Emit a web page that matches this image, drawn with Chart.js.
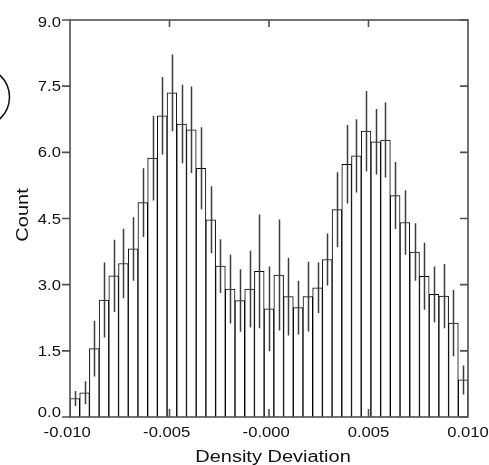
<!DOCTYPE html>
<html>
<head>
<meta charset="utf-8">
<script src="https://cdn.jsdelivr.net/npm/chart.js@4/dist/chart.umd.min.js"></script>
<style>
  html, body { margin: 0; padding: 0; background: #fff; }
  canvas { display: block; }
</style>
</head>
<body>
<canvas id="hist" width="489" height="465"></canvas>
<script>
// histogram of density deviation, 41 bins from -0.010 to 0.010
const binStart = -0.010;
const binEnd = 0.010;
const counts = [0.42, 0.55, 1.55, 2.65, 3.20, 3.48, 3.81, 4.86, 5.87, 6.83,
                7.35, 6.64, 6.51, 5.64, 4.47, 3.42, 2.90, 2.64, 2.90, 3.30,
                2.45, 3.22, 2.73, 2.48, 2.73, 2.93, 3.57, 4.70, 5.73, 5.92,
                6.48, 6.24, 6.28, 5.02, 4.41, 3.74, 3.19, 2.78, 2.74, 2.13, 0.84];
const errors = [0.17, 0.26, 0.63, 0.85, 0.82, 0.79, 0.72, 0.78, 0.96, 0.88,
                0.87, 0.89, 0.98, 0.93, 0.76, 0.61, 0.78, 0.71, 0.87, 1.29,
                0.96, 1.26, 0.88, 0.61, 0.79, 0.57, 0.59, 0.85, 0.89, 0.83,
                0.91, 0.74, 0.85, 0.76, 0.73, 0.65, 0.76, 0.63, 0.73, 0.75, 0.33];
const xTicks = [-0.010, -0.005, 0, 0.005, 0.010];
const xTickLabels = ['-0.010', '-0.005', '-0.000', '0.005', '0.010'];
const yTicks = [0, 1.5, 3, 4.5, 6, 7.5, 9];
const yTickLabels = ['0.0', '1.5', '3.0', '4.5', '6.0', '7.5', '9.0'];
const xTitle = 'Density Deviation';
const yTitle = 'Count';

const binWidth = (binEnd - binStart) / counts.length;
const points = counts.map((c, i) => ({ x: binStart + (i + 0.5) * binWidth, y: c }));

// text in the reference is a bit wider than Arial, so squeeze it out sideways
function wideText(ctx, text, x, y, sx, align) {
  ctx.save();
  ctx.translate(x, y);
  ctx.scale(sx, 1);
  ctx.textAlign = align;
  ctx.fillText(text, 0, 0);
  ctx.restore();
}

const frameAndErrors = {
  id: 'frameAndErrors',
  afterDatasetsDraw(chart) {
    const ctx = chart.ctx;
    const area = chart.chartArea;
    const xs = chart.scales.x;
    const ys = chart.scales.y;

    // error bars
    ctx.save();
    ctx.strokeStyle = '#3c3c3c';
    ctx.lineWidth = 1.5;
    ctx.beginPath();
    points.forEach((p, i) => {
      const px = Math.round(xs.getPixelForValue(p.x)) + 0.5;
      ctx.moveTo(px, ys.getPixelForValue(p.y - errors[i]));
      ctx.lineTo(px, ys.getPixelForValue(p.y + errors[i]));
    });
    ctx.stroke();

    // frame
    ctx.strokeStyle = '#505050';
    ctx.lineWidth = 1.6;
    ctx.strokeRect(area.left, area.top, area.right - area.left, area.bottom - area.top);

    // ticks
    ctx.beginPath();
    yTicks.forEach(v => {
      const py = ys.getPixelForValue(v);
      ctx.moveTo(area.left - 8, py);
      ctx.lineTo(area.left, py);
      ctx.moveTo(area.right - 8, py);
      ctx.lineTo(area.right, py);
    });
    xTicks.slice(1, -1).forEach(v => {
      const px = xs.getPixelForValue(v);
      ctx.moveTo(px, area.top);
      ctx.lineTo(px, area.top + 7);
      ctx.moveTo(px, area.bottom - 8);
      ctx.lineTo(px, area.bottom);
    });
    ctx.stroke();

    // tick labels
    ctx.fillStyle = '#111';
    ctx.textBaseline = 'alphabetic';
    ctx.font = '14px "Liberation Sans", Arial, sans-serif';
    const sx = 1.19;
    yTicks.forEach((v, i) => {
      const base = Math.min(Math.max(ys.getPixelForValue(v) + 5, 26.7), area.bottom);
      wideText(ctx, yTickLabels[i], area.left - 9, base, sx, 'right');
    });
    xTicks.forEach((v, i) => {
      const label = xTickLabels[i];
      const bare = label.replace('-', '');
      const wFull = ctx.measureText(label).width * sx;
      const wBare = ctx.measureText(bare).width * sx;
      const left = xs.getPixelForValue(v) - wBare / 2 - (wFull - wBare);
      wideText(ctx, label, left, area.bottom + 19.5, sx, 'left');
    });

    // axis titles
    ctx.font = '16px "Liberation Sans", Arial, sans-serif';
    wideText(ctx, xTitle, 273, 461.7, 1.25, 'center');
    ctx.save();
    ctx.translate(28, 215);
    ctx.rotate(-Math.PI / 2);
    wideText(ctx, yTitle, 0, 0, 1.25, 'center');
    ctx.restore();

    // stray circle at the left edge of the reference
    ctx.strokeStyle = '#111';
    ctx.lineWidth = 1.5;
    ctx.beginPath();
    ctx.arc(-20, 97, 29.5, 0, Math.PI * 2);
    ctx.stroke();
    ctx.restore();
  }
};

new Chart(document.getElementById('hist'), {
  type: 'bar',
  data: {
    datasets: [{
      data: points,
      backgroundColor: '#ffffff',
      borderColor: '#000000',
      borderWidth: 1,
      barPercentage: 1,
      categoryPercentage: 1
    }]
  },
  options: {
    responsive: false,
    animation: false,
    layout: { padding: { left: 70, right: 21, top: 20, bottom: 48 } },
    plugins: { legend: { display: false }, tooltip: { enabled: false } },
    scales: {
      x: { type: 'linear', min: binStart, max: binEnd, offset: false, display: false },
      y: { min: 0, max: 9, display: false }
    }
  },
  plugins: [frameAndErrors]
});
</script>
</body>
</html>
